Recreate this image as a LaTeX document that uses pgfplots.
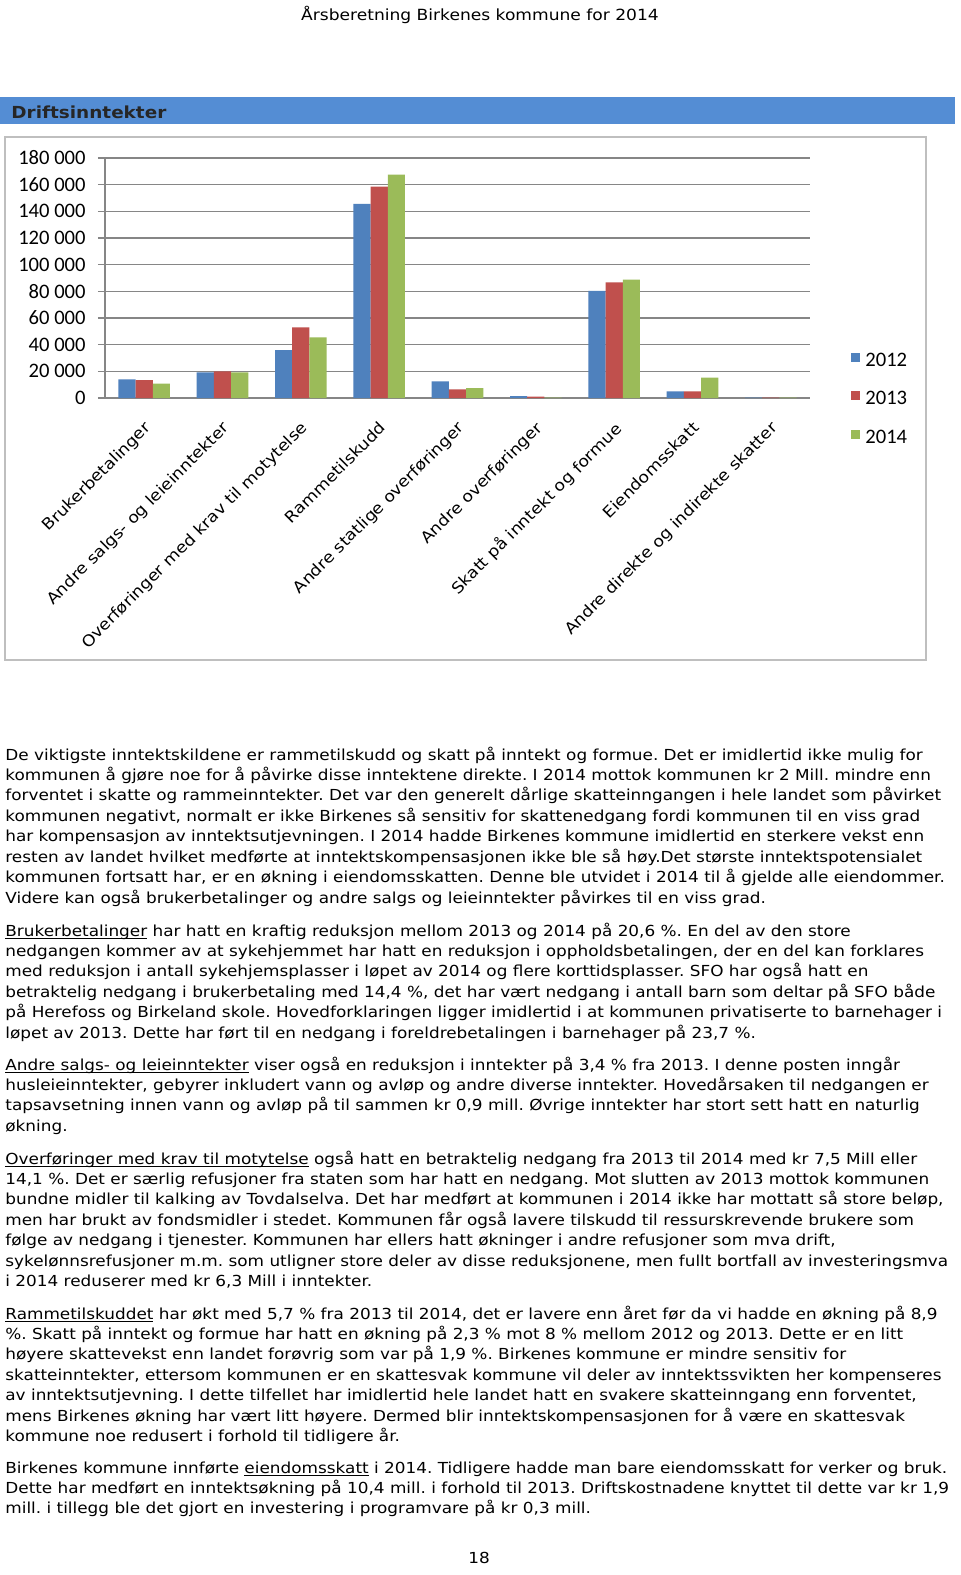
\documentclass[border=0pt]{standalone}
\usepackage{fontspec}
\setmainfont[FakeStretch=1.11]{DejaVu Sans}
\newfontfamily\calib{Carlito}
\usepackage{pgfplots}
\pgfplotsset{compat=1.18}
\frenchspacing

\definecolor{c12}{HTML}{4F81BD}
\definecolor{c13}{HTML}{C0504D}
\definecolor{c14}{HTML}{9BBB59}
\definecolor{titlebar}{RGB}{84,141,212}
\definecolor{gridg}{HTML}{868686}
\definecolor{frameg}{HTML}{BFBFBF}

\newcommand\bodyfont{\fontsize{7.6pt}{10.2pt}\selectfont}
\newcommand\ul[1]{\underline{\smash{#1}}}
% one line of body text at a given baseline (px from top)
\newcommand\tl[2]{\node[anchor=base west,inner sep=0pt,font=\bodyfont] at (5,#1) {#2};}

\begin{document}
\begin{tikzpicture}[x=0.5pt,y=-0.5pt]
\path[fill=white] (0,0) rectangle (960,1575);

\node[anchor=base,inner sep=0pt,font=\fontsize{7.7pt}{9pt}\selectfont] at (480,20) {Årsberetning Birkenes kommune for 2014};
\fill[titlebar] (0,97) rectangle (955,124);
\node[anchor=base west,inner sep=0pt,font=\bfseries\fontsize{8.3pt}{10pt}\selectfont,text=black!85] at (11,118) {Driftsinntekter};
\draw[frameg,line width=0.8pt] (5,137) rectangle (926,660);

\begin{axis}[
  at={(52.5pt,-199pt)}, anchor=south west,
  scale only axis, width=352.5pt, height=120pt,
  xmin=-0.5, xmax=8.5, ymin=0, ymax=180000,
  scaled y ticks=false,
  ybar=0pt, bar width=8.6pt,
  axis lines*=left,
  axis line style={gridg,line width=0.8pt},
  ymajorgrids, grid style={gridg,line width=0.8pt},
  tick align=outside,
  ytick={0,20000,...,180000},
  yticklabels={0,{20 000},{40 000},{60 000},{80 000},{100 000},{120 000},{140 000},{160 000},{180 000}},
  yticklabel style={font=\calib\fontsize{10.3pt}{12pt}\selectfont,anchor=east,inner sep=0pt,xshift=-6pt},
  ytick style={gridg,line width=0.8pt},
  major tick length=3.5pt,
  xtick={0,...,8},
  xtick style={draw=none},
  minor xtick={-0.5,0.5,...,8.5},
  minor x tick style={gridg,line width=0.8pt},
  minor tick length=3pt,
  xticklabels={Brukerbetalinger,{Andre salgs- og leieinntekter},{Overføringer med krav til motytelse},Rammetilskudd,{Andre statlige overføringer},{Andre overføringer},{Skatt på inntekt og formue},Eiendomsskatt,{Andre direkte og indirekte skatter}},
  xticklabel style={font=\fontsize{7.8pt}{9pt}\selectfont,inner sep=0pt,anchor=north east,xshift=-0.5pt,yshift=-7.5pt,rotate=45},
  legend style={at={(1.0496,0.0)},anchor=west,draw=none,fill=none,
    font=\calib\fontsize{10.3pt}{12pt}\selectfont,row sep=12.5pt,
    nodes={inner sep=0pt,text height=6.5pt,text depth=0pt}},
  legend cell align=left,
  legend image code/.code={\path[#1,draw=none] (0pt,-1pt) rectangle (4.5pt,3.5pt);},
  /tikz/every even column/.append style={column sep=2.5pt},
  /tikz/every odd column/.append style={column sep=2.5pt},
]
\addplot[fill=c12,draw=none] coordinates {(0,14000) (1,19200) (2,36000) (3,145600) (4,12500) (5,1500) (6,80300) (7,5000) (8,300)};
\addplot[fill=c13,draw=none] coordinates {(0,13500) (1,19900) (2,52900) (3,158600) (4,6500) (5,1000) (6,86800) (7,5000) (8,300)};
\addplot[fill=c14,draw=none] coordinates {(0,10700) (1,19300) (2,45400) (3,167600) (4,7500) (5,300) (6,88800) (7,15300) (8,300)};
\legend{2012,2013,2014}
\end{axis}

\tl{760}{De viktigste inntektskildene er rammetilskudd og skatt på inntekt og formue. Det er imidlertid ikke mulig for}
\tl{780.4}{kommunen å gjøre noe for å påvirke disse inntektene direkte. I 2014 mottok kommunen kr 2 Mill. mindre enn}
\tl{800.9}{forventet i skatte og rammeinntekter. Det var den generelt dårlige skatteinngangen i hele landet som påvirket}
\tl{821.3}{kommunen negativt, normalt er ikke Birkenes så sensitiv for skattenedgang fordi kommunen til en viss grad}
\tl{841.7}{har kompensasjon av inntektsutjevningen. I 2014 hadde Birkenes kommune imidlertid en sterkere vekst enn}
\tl{862.1}{resten av landet hvilket medførte at inntektskompensasjonen ikke ble så høy.Det største inntektspotensialet}
\tl{882.6}{kommunen fortsatt har, er en økning i eiendomsskatten. Denne ble utvidet i 2014 til å gjelde alle eiendommer.}
\tl{903}{Videre kan også brukerbetalinger og andre salgs og leieinntekter påvirkes til en viss grad.}

\tl{936}{\ul{Brukerbetalinger} har hatt en kraftig reduksjon mellom 2013 og 2014 på 20,6 \%. En del av den store}
\tl{956.4}{nedgangen kommer av at sykehjemmet har hatt en reduksjon i oppholdsbetalingen, der en del kan forklares}
\tl{976.9}{med reduksjon i antall sykehjemsplasser i løpet av 2014 og flere korttidsplasser. SFO har også hatt en}
\tl{997.3}{betraktelig nedgang i brukerbetaling med 14,4 \%, det har vært nedgang i antall barn som deltar på SFO både}
\tl{1017.7}{på Herefoss og Birkeland skole. Hovedforklaringen ligger imidlertid i at kommunen privatiserte to barnehager i}
\tl{1038.1}{løpet av 2013. Dette har ført til en nedgang i foreldrebetalingen i barnehager på 23,7 \%.}

\tl{1070}{\ul{Andre salgs- og leieinntekter} viser også en reduksjon i inntekter på 3,4 \% fra 2013. I denne posten inngår}
\tl{1090.4}{husleieinntekter, gebyrer inkludert vann og avløp og andre diverse inntekter. Hovedårsaken til nedgangen er}
\tl{1110.9}{tapsavsetning innen vann og avløp på til sammen kr 0,9 mill. Øvrige inntekter har stort sett hatt en naturlig}
\tl{1131.3}{økning.}

\tl{1164}{\ul{Overføringer med krav til motytelse} også hatt en betraktelig nedgang fra 2013 til 2014 med kr 7,5 Mill eller}
\tl{1184.4}{14,1 \%. Det er særlig refusjoner fra staten som har hatt en nedgang. Mot slutten av 2013 mottok kommunen}
\tl{1204.9}{bundne midler til kalking av Tovdalselva. Det har medført at kommunen i 2014 ikke har mottatt så store beløp,}
\tl{1225.3}{men har brukt av fondsmidler i stedet. Kommunen får også lavere tilskudd til ressurskrevende brukere som}
\tl{1245.7}{følge av nedgang i tjenester. Kommunen har ellers hatt økninger i andre refusjoner som mva drift,}
\tl{1266.1}{sykelønnsrefusjoner m.m. som utligner store deler av disse reduksjonene, men fullt bortfall av investeringsmva}
\tl{1286.6}{i 2014 reduserer med kr 6,3 Mill i inntekter.}

\tl{1319}{\ul{Rammetilskuddet} har økt med 5,7 \% fra 2013 til 2014, det er lavere enn året før da vi hadde en økning på 8,9}
\tl{1339.4}{\%. Skatt på inntekt og formue har hatt en økning på 2,3 \% mot 8 \% mellom 2012 og 2013. Dette er en litt}
\tl{1359.9}{høyere skattevekst enn landet forøvrig som var på 1,9 \%. Birkenes kommune er mindre sensitiv for}
\tl{1380.3}{skatteinntekter, ettersom kommunen er en skattesvak kommune vil deler av inntektssvikten her kompenseres}
\tl{1400.7}{av inntektsutjevning. I dette tilfellet har imidlertid hele landet hatt en svakere skatteinngang enn forventet,}
\tl{1421.1}{mens Birkenes økning har vært litt høyere. Dermed blir inntektskompensasjonen for å være en skattesvak}
\tl{1441.6}{kommune noe redusert i forhold til tidligere år.}

\tl{1473}{Birkenes kommune innførte \ul{eiendomsskatt} i 2014. Tidligere hadde man bare eiendomsskatt for verker og bruk.}
\tl{1493.4}{Dette har medført en inntektsøkning på 10,4 mill. i forhold til 2013. Driftskostnadene knyttet til dette var kr 1,9}
\tl{1513.9}{mill. i tillegg ble det gjort en investering i programvare på kr 0,3 mill.}

\node[anchor=base,inner sep=0pt,font=\bodyfont] at (479,1563) {18};
\end{tikzpicture}
\end{document}
